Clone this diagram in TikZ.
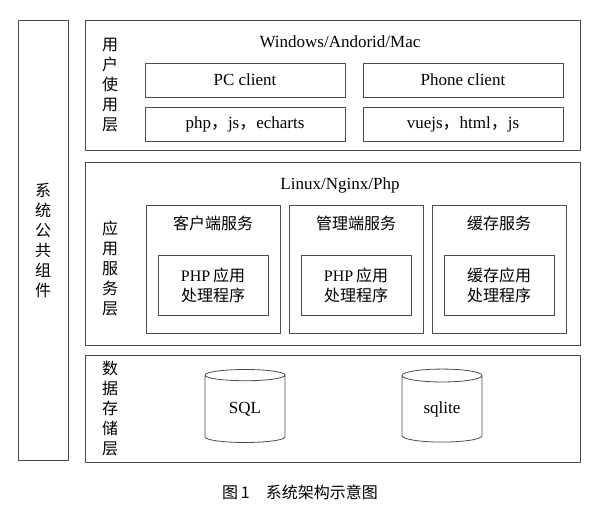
\documentclass[tikz,border=0pt]{standalone}
\usepackage{fontspec}
\setmainfont{Liberation Serif}
\newfontfamily\cjk{Noto Sans CJK SC}
\newcommand{\zc}{{\cjk ，}}
\usetikzlibrary{shapes.geometric}
\begin{document}
\begin{tikzpicture}[x=1pt,y=-1pt,
  every node/.style={font=\fontsize{16}{20}\selectfont\cjk,text=black},
  lat/.style={font=\fontsize{17}{20}\selectfont\rmfamily},
  layer/.style={draw,thick,gray!60!black},
  box/.style={draw,thick,gray!60!black,text=black,minimum height=34pt,inner sep=0pt,lat},
  vtext/.style={align=center,font=\fontsize{16}{20}\selectfont\cjk},
  db/.style={draw,thick,gray!60!black,text=black,lat,cylinder,shape border rotate=90,aspect=0.35,minimum width=80pt,minimum height=73pt,inner sep=0pt}]
\useasboundingbox (0,0) rectangle (600,514);

%public
\draw[layer] (18,20) rectangle (68,460);
\node[vtext] (pub) at (43,240) {系\\统\\公\\共\\组\\件};

%user layer
\draw[layer] (85,20) rectangle (580,150);
\node[vtext] (user) at (110,85) {用\\户\\使\\用\\层};
\node[lat] (os) at (340,42) {Windows/Andorid/Mac};
\node[box,minimum width=200pt] (pc) at (245,80) {PC client};
\node[box,minimum width=200pt] (phone) at (463,80) {Phone client};
\node[box,minimum width=200pt] (web) at (245,124) {php\zc js\zc echarts};
\node[box,minimum width=200pt] (mob) at (463,124) {vuejs\zc html\zc js};

%app layer
\draw[layer] (85,162) rectangle (580,345);
\node[vtext] (app) at (110,268) {应\\用\\服\\务\\层};
\node[lat] (srv) at (340,185) {Linux/Nginx/Php};
\foreach \n/\x/\t/\i in {c/213/客户端服务/{\rmfamily PHP}\,应用, m/356/管理端服务/{\rmfamily PHP}\,应用, k/499/缓存服务/缓存应用}{
  \draw[layer] (\x-67,205) rectangle (\x+67,333);
  \node (\n t) at (\x,223) {\t};
  \draw[layer] (\x-55,255) rectangle (\x+55,315);
  \node[align=center] (\n i) at (\x,285) {\i\\处理程序};
}

%data layer
\draw[layer] (85,355) rectangle (580,462);
\node[vtext] (data) at (110,408) {数\\据\\存\\储\\层};
\node[db] (sql) at (245,409) {SQL};
\node[db] (lite) at (442,409) {sqlite};

%caption
\node (cap) at (300,492) {图\,1\quad 系统架构示意图};
\end{tikzpicture}
\end{document}
